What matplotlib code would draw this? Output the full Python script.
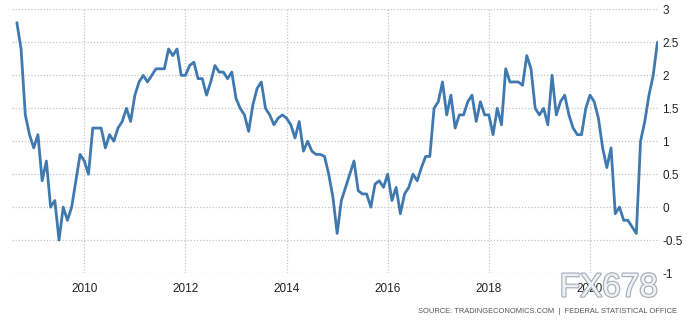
import numpy as np
import matplotlib
matplotlib.use('Agg')
import matplotlib.pyplot as plt
import matplotlib.patheffects as pe

plt.rcParams['font.family'] = ['Liberation Sans', 'DejaVu Sans']
plt.rcParams['axes.unicode_minus'] = False

# Germany inflation rate, monthly, Sep 2008 - May 2021
start_year = 2008
start_month = 9
inflation = [
    2.8, 2.4, 1.4, 1.1,                                              # 2008 Sep-Dec
    0.9, 1.1, 0.4, 0.7, 0.0, 0.1, -0.5, 0.0, -0.2, 0.0, 0.4, 0.8,    # 2009
    0.7, 0.5, 1.2, 1.2, 1.2, 0.9, 1.1, 1.0, 1.2, 1.3, 1.5, 1.3,      # 2010
    1.7, 1.9, 2.0, 1.9, 2.0, 2.1, 2.1, 2.1, 2.4, 2.3, 2.4, 2.0,      # 2011
    2.0, 2.15, 2.2, 1.95, 1.95, 1.7, 1.9, 2.15, 2.05, 2.05, 1.95, 2.05,  # 2012
    1.65, 1.5, 1.4, 1.15, 1.55, 1.8, 1.9, 1.5, 1.4, 1.25, 1.35, 1.4,  # 2013
    1.35, 1.25, 1.05, 1.3, 0.85, 1.0, 0.85, 0.8, 0.8, 0.77, 0.5, 0.15,  # 2014
    -0.4, 0.1, 0.3, 0.5, 0.7, 0.25, 0.2, 0.2, 0.0, 0.35, 0.4, 0.3,   # 2015
    0.5, 0.1, 0.3, -0.1, 0.2, 0.3, 0.5, 0.4, 0.6, 0.77, 0.77, 1.5,   # 2016
    1.6, 1.9, 1.4, 1.7, 1.2, 1.4, 1.4, 1.6, 1.7, 1.3, 1.6, 1.4,      # 2017
    1.4, 1.1, 1.5, 1.25, 2.1, 1.9, 1.9, 1.9, 1.85, 2.3, 2.1, 1.5,    # 2018
    1.4, 1.5, 1.25, 2.0, 1.4, 1.6, 1.7, 1.4, 1.2, 1.1, 1.1, 1.5,     # 2019
    1.7, 1.6, 1.35, 0.9, 0.6, 0.9, -0.1, 0.0, -0.2, -0.2, -0.3, -0.4,  # 2020
    1.0, 1.3, 1.7, 2.0, 2.5,                                         # 2021 Jan-May
]
year_ticks = [2010, 2012, 2014, 2016, 2018, 2020]
y_ticks = [-1, -0.5, 0, 0.5, 1, 1.5, 2, 2.5, 3]
source = 'SOURCE: TRADINGECONOMICS.COM  |  FEDERAL STATISTICAL OFFICE'

months = np.arange(len(inflation))
x = start_year + (start_month - 1 + months) / 12.0

fig = plt.figure(figsize=(6.89, 3.25), dpi=100)
ax = fig.add_axes([0.0174, 0.16, 0.9376, 0.8108])

ax.plot(x, inflation, color='#4079b0', lw=2.0, solid_joinstyle='round',
        solid_capstyle='round', zorder=3)

ax.set_xlim(2008.57, 2021.345)
ax.set_ylim(-1, 3)
ax.set_xticks(year_ticks)
ax.set_xticklabels([str(y) for y in year_ticks])
ax.set_yticks(y_ticks)
ax.set_yticklabels(['{:g}'.format(v) for v in y_ticks])
ax.yaxis.tick_right()
ax.tick_params(axis='both', length=0, labelsize=8.5, colors='#222222')
ax.tick_params(axis='x', pad=7)
ax.tick_params(axis='y', pad=3)
for lab in ax.get_yticklabels():
    lab.set_horizontalalignment('left')

ax.grid(True, color='#c4c4c4', linestyle=(0, (1, 1.5)), lw=0.9)
ax.set_axisbelow(True)
for s in ax.spines.values():
    s.set_visible(False)

fig.text(0.983, 0.030, source, ha='right', va='bottom', fontsize=5.4,
         color='#555555')

wm = fig.text(0.955, 0.066, 'FX678', ha='right', va='bottom', fontsize=24,
              color='#eef0f3', zorder=5)
wm.set_path_effects([pe.withStroke(linewidth=1.6, foreground='#a3abb5')])

fig.savefig('out.png', dpi=100)
